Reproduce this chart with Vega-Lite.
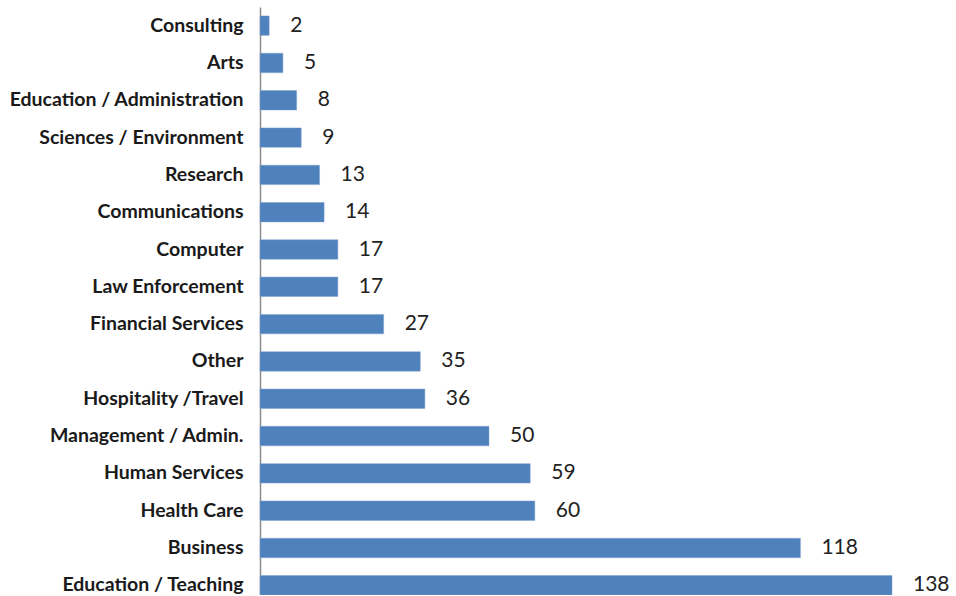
{
  "$schema": "https://vega.github.io/schema/vega-lite/v6.json",
  "autosize": "none",
  "padding": {"left": 260, "top": 7, "right": 64, "bottom": 0},
  "width": 632,
  "height": 588,
  "background": "white",
  "config": {"view": {"stroke": null}},
  "data": {"values": [
    {"category": "Consulting", "count": 2},
    {"category": "Arts", "count": 5},
    {"category": "Education / Administration", "count": 8},
    {"category": "Sciences / Environment", "count": 9},
    {"category": "Research", "count": 13},
    {"category": "Communications", "count": 14},
    {"category": "Computer", "count": 17},
    {"category": "Law Enforcement", "count": 17},
    {"category": "Financial Services", "count": 27},
    {"category": "Other", "count": 35},
    {"category": "Hospitality /Travel", "count": 36},
    {"category": "Management / Admin.", "count": 50},
    {"category": "Human Services", "count": 59},
    {"category": "Health Care", "count": 60},
    {"category": "Business", "count": 118},
    {"category": "Education / Teaching", "count": 138}
  ]},
  "encoding": {
    "y": {
      "field": "category", "type": "nominal", "sort": null,
      "scale": {"paddingInner": 0.48, "paddingOuter": 0.12, "align": 1},
      "axis": {
        "title": null, "ticks": false, "labelPadding": 17,
        "labelFont": "Lato", "labelFontSize": 19.5, "labelFontWeight": "bold",
        "labelColor": "#1a1a1a", "labelLimit": 300,
        "domainColor": "#8c8c8c", "domainWidth": 1.5
      }
    },
    "x": {
      "field": "count", "type": "quantitative",
      "scale": {"domain": [0, 138], "nice": false, "zero": true},
      "axis": null
    }
  },
  "layer": [
    {"mark": {"type": "bar", "color": "#4F81BD", "stroke": "#7da0cc", "strokeWidth": 0.5}},
    {
      "mark": {"type": "text", "align": "left", "dx": 21, "dy": 0, "font": "Lato", "fontSize": 21, "color": "#222222"},
      "encoding": {"text": {"field": "count", "type": "quantitative"}}
    }
  ]
}
